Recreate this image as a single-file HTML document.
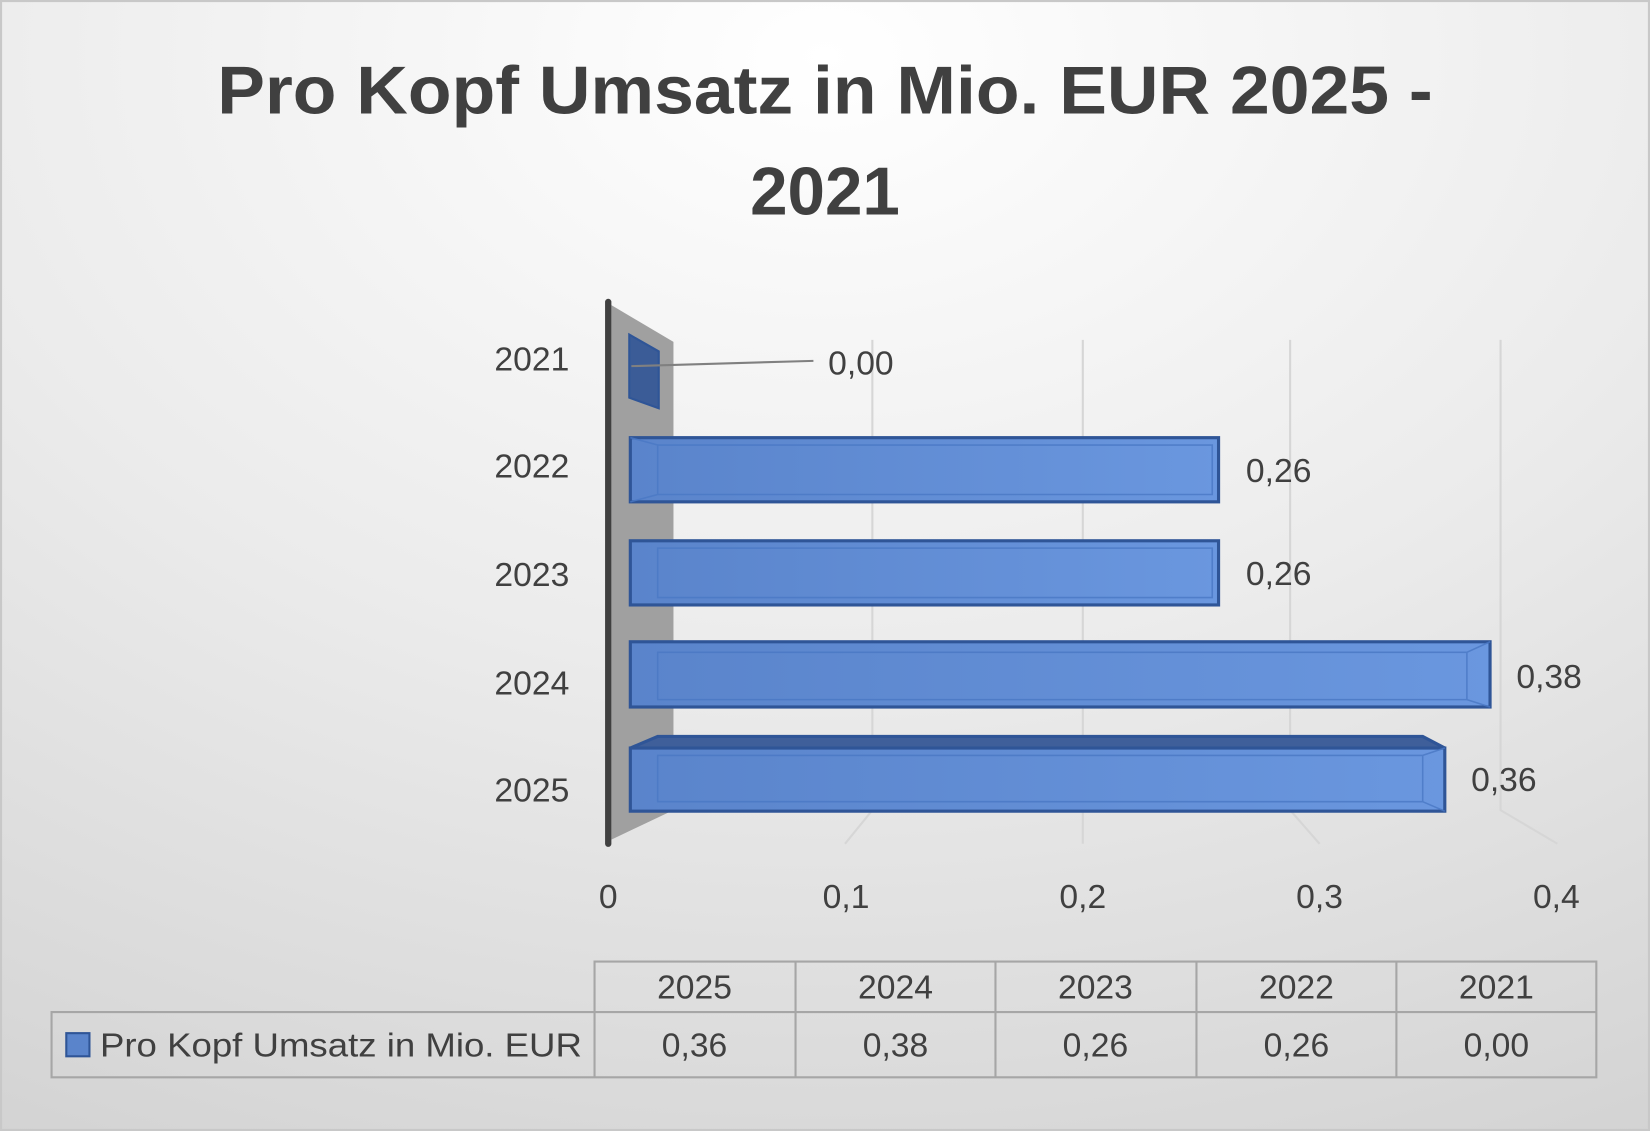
<!DOCTYPE html>
<html><head><meta charset="utf-8"><style>
html,body{margin:0;padding:0;width:1650px;height:1131px;overflow:hidden;background:#e6e6e6}
svg{display:block}
text{font-family:"Liberation Sans",sans-serif;fill:#404040}
</style></head><body>
<svg width="1650" height="1131" viewBox="0 0 1568 1075" preserveAspectRatio="none" xmlns="http://www.w3.org/2000/svg">
<defs>
<radialGradient id="bg" cx="0.5" cy="0.05" r="1.1">
<stop offset="0" stop-color="#ffffff"/><stop offset="0.5" stop-color="#ebebeb"/><stop offset="1" stop-color="#d2d2d2"/>
</radialGradient>
<linearGradient id="bar" x1="0" y1="0" x2="1" y2="0">
<stop offset="0" stop-color="#5a84cb"/><stop offset="1" stop-color="#6a97df"/>
</linearGradient>
</defs>
<rect x="0" y="0" width="1568" height="1075" fill="url(#bg)"/>
<rect x="1" y="1" width="1566" height="1073" fill="none" stroke="#c8c8c8" stroke-width="2"/>
<text x="784" y="108" font-size="64" font-weight="bold" text-anchor="middle" textLength="1155" lengthAdjust="spacingAndGlyphs">Pro Kopf Umsatz in Mio. EUR 2025 -</text>
<text x="784" y="204" font-size="64" font-weight="bold" text-anchor="middle">2021</text>
<!-- wall -->
<polygon points="581,290 640,325 640,770 581,798" fill="#a0a0a0"/>
<!-- gridlines -->
<g stroke="#d6d6d6" stroke-width="2" fill="none">
<path d="M829,323 V770 L803,802"/><path d="M1029,323 V802"/><path d="M1226,323 V770 L1254,802"/><path d="M1426,323 V770 L1480,802"/>
</g>
<line x1="578" y1="287" x2="578" y2="802" stroke="#404040" stroke-width="6" stroke-linecap="round"/>
<!-- 2021 bar -->
<polygon points="598,318 626,334 626,388 598,378" fill="#3b5c97" stroke="#2f5597" stroke-width="2"/>
<line x1="600" y1="348" x2="773" y2="343" stroke="#808080" stroke-width="2"/>
<!-- bars -->
<g stroke="#2f5597" stroke-width="3">
<rect x="599" y="416" width="559" height="61" fill="url(#bar)"/>
<rect x="599" y="514" width="559" height="61" fill="url(#bar)"/>
<rect x="599" y="610" width="817" height="62" fill="url(#bar)"/>
<polygon points="599,711 625,700 1352,700 1373,711" fill="#3f5f9a"/>
<rect x="599" y="711" width="774" height="60" fill="url(#bar)"/>
</g>
<g stroke="#4a78c4" stroke-width="1.5" fill="none" opacity="0.8">
<path d="M625,423 H1152 V470 H625 Z M599,416 L625,423 M599,477 L625,470"/>
<path d="M625,521 H1152 V568 H625 Z"/>
<path d="M625,620 H1394 V665 H625 Z M1416,610 L1394,620 M1416,672 L1394,665"/>
<path d="M625,718 H1352 V762 H625 Z M1373,711 L1352,718 M1373,771 L1352,762"/>
</g>
<g font-size="32">
<text x="787" y="356">0,00</text>
<text x="1184" y="458">0,26</text>
<text x="1184" y="556">0,26</text>
<text x="1441" y="654">0,38</text>
<text x="1398" y="752">0,36</text>
<g text-anchor="end">
<text x="541" y="352">2021</text><text x="541" y="454">2022</text><text x="541" y="557">2023</text><text x="541" y="660">2024</text><text x="541" y="762">2025</text>
</g>
<g text-anchor="middle">
<text x="578" y="863">0</text><text x="804" y="863">0,1</text><text x="1029" y="863">0,2</text><text x="1254" y="863">0,3</text><text x="1479" y="863">0,4</text>
<text x="660" y="949">2025</text><text x="851" y="949">2024</text><text x="1041" y="949">2023</text><text x="1232" y="949">2022</text><text x="1422" y="949">2021</text>
<text x="660" y="1004">0,36</text><text x="851" y="1004">0,38</text><text x="1041" y="1004">0,26</text><text x="1232" y="1004">0,26</text><text x="1422" y="1004">0,00</text>
</g>
<text x="95" y="1004" textLength="458" lengthAdjust="spacingAndGlyphs">Pro Kopf Umsatz in Mio. EUR</text>
</g>
<!-- table -->
<g stroke="#a6a6a6" stroke-width="2" fill="none">
<path d="M565,1024 V914 H1517 V1024 H49 V962 H1517"/>
<path d="M756,914 V1024 M946,914 V1024 M1137,914 V1024 M1327,914 V1024"/>
</g>
<rect x="63" y="982" width="22" height="22" fill="#5a84cb" stroke="#2f5597" stroke-width="2"/>
</svg>
</body></html>
